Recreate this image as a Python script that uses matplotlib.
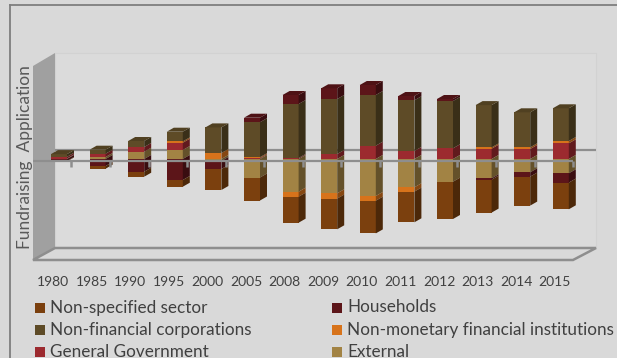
import matplotlib
matplotlib.use("Agg")
import matplotlib.pyplot as plt
from matplotlib.patches import Polygon, Rectangle
from matplotlib.lines import Line2D
from matplotlib.transforms import blended_transform_factory, ScaledTranslation
from matplotlib.colors import to_rgb

plt.rcParams['font.family'] = ['Lato', 'DejaVu Sans']

# ---------------- data ----------------
years = ['1980', '1985', '1990', '1995', '2000', '2005', '2008', '2009',
         '2010', '2011', '2012', '2013', '2014', '2015']

sectors = ['Non-specified sector', 'Households', 'Non-financial corporations',
           'Non-monetary financial institutions', 'General Government', 'External']
colors = ['#7B400E', '#5C1519', '#5E4B27', '#D7731B', '#9C2A2F', '#A28344']

# Application (positive) by sector
app_nonspec = [0, 0, 0, 0, 0, 0, 0, 0, 0, 0, 0, 0, 0, 0]
app_households = [0, 0, 0, 0, 0, 4.5, 9, 10.7, 10, 4.3, 2, 0, 0, 0]
app_nfc = [2.7, 4, 6, 9.7, 25.6, 35, 54, 55, 50.7, 50.7, 47.3, 42.3, 35, 32.7]
app_nmfi = [0, 0, 0, 1.3, 6, 1, 0, 0, 0, 0, 0, 1.3, 1.7, 2.3]
app_gov = [1.7, 3.3, 4.7, 7.3, 0, 0.8, 1, 5, 13.3, 8, 10.7, 10.3, 10, 15.7]
app_external = [0.5, 2, 7.3, 9, 0, 0, 0, 0, 0, 0, 0, 0, 0, 0]

# Fundraising (negative) by sector
fund_nonspec = [-0.5, -2.7, -5, -6.7, -21, -23, -26, -30.7, -32.7, -30.7, -37.3, -33, -29, -26.7]
fund_households = [-2, -7, -12.7, -21, -8, 0, 0, 0, 0, 0, 0, -1.3, -4.3, -9.3]
fund_nfc = [0] * 14
fund_nmfi = [0, 0, 0, 0, 0, 0, -5, -5.3, -4.7, -4.3, 0, 0, 0, 0]
fund_gov = [0] * 14
fund_external = [0, 0, 0, 0, -2, -18.5, -32.7, -34.3, -37, -28.3, -22.7, -19.3, -13.3, -14.3]

app = [app_nonspec, app_households, app_nfc, app_nmfi, app_gov, app_external]
fund = [fund_nonspec, fund_households, fund_nfc, fund_nmfi, fund_gov, fund_external]

# stacking order outward from zero: External, GG, NMFI, NFC, Households, Non-specified
stack_order = [5, 4, 3, 2, 1, 0]


def shade(c, f):
    r, g, b = to_rgb(c)
    return (r * f, g * f, b * f)


# ---------------- figure ----------------
W, H = 617, 358
fig = plt.figure(figsize=(W / 100, H / 100), dpi=100, facecolor='#D9D9D9')

bg = fig.add_axes([0, 0, 1, 1], zorder=0)
bg.set_xlim(0, W)
bg.set_ylim(H, 0)
bg.set_autoscale_on(False)
bg.axis('off')

# chart frame
bg.plot([9.5, 9.5], [H, 4.5], color='#7F7F7F', lw=1.3)
bg.plot([9.5, W], [4.5, 4.5], color='#7F7F7F', lw=1.3)

# 3D walls
bg.add_patch(Rectangle((55, 53), 541, 195, fc='#DBDBDB', ec='#D2D2D2', lw=0.8))
bg.add_patch(Polygon([(33, 66), (55, 53), (55, 248), (33, 260)], closed=True,
                     fc='#A0A0A0', ec='none'))
bg.add_patch(Polygon([(33, 260), (55, 248), (596, 248), (573, 260)], closed=True,
                     fc='#D9D9D9', ec='#8E8E8E', lw=1.8))
# back-wall zero line
bg.plot([55, 596], [150, 150], color='#8E8E8E', lw=1.6, solid_capstyle='butt')

# main data axes
ax_left, ax_right, ax_top, ax_bottom = 39.7, 580.1, 60, 250
ax = fig.add_axes([ax_left / W, (H - ax_bottom) / H, (ax_right - ax_left) / W,
                   (ax_bottom - ax_top) / H], zorder=1)
ax.patch.set_alpha(0)
ax.axis('off')
n = len(years)
ax.set_xlim(-0.5, n - 0.5)
ax.set_ylim(-91, 99)

px_x = (ax_right - ax_left) / n
px_y = (ax_bottom - ax_top) / 190.0
dx = 7 / px_x
dy = 4 / px_y
w = 16 / px_x

# bars
for i in range(n):
    for sign, data in ((1, app), (-1, fund)):
        base = 0.0
        last = None
        for k in stack_order:
            v = data[k][i]
            if v == 0:
                continue
            ax.bar(i, v, width=w, bottom=base, color=colors[k], edgecolor='none',
                   zorder=3)
            lo, hi = sorted([base, base + v])
            xr = i + w / 2
            ax.add_patch(Polygon([(xr, lo), (xr + dx, lo + dy), (xr + dx, hi + dy), (xr, hi)],
                                 closed=True, fc=shade(colors[k], 0.62), ec='none', zorder=3))
            base += v
            last = k
        if sign == 1 and last is not None:
            xl = i - w / 2
            ax.add_patch(Polygon([(xl, base), (xl + dx, base + dy), (xl + w + dx, base + dy),
                                  (xl + w, base)], closed=True,
                                 fc=shade(colors[last], 0.85), ec='none', zorder=3))

# front axis line with ticks (projected forward, drawn in front of bars)
fx = blended_transform_factory(ax.transData, bg.transData)
front_off = ScaledTranslation(-7 / 100, 0, fig.dpi_scale_trans)
fig.add_artist(Line2D([33, 573], [161, 161], color='#8E8E8E', lw=1.6,
                      solid_capstyle='butt', transform=bg.transData, zorder=5))
for i in range(n):
    fig.add_artist(Line2D([i + 0.5, i + 0.5], [161, 166.5], color='#8E8E8E', lw=1.8,
                          solid_capstyle='butt', transform=fx + front_off, zorder=5))

# category labels
lab_off = ScaledTranslation(-6 / 100, 0, fig.dpi_scale_trans)
for i, y in enumerate(years):
    bg.text(i, 282, y, transform=fx + lab_off, ha='center', va='center',
            fontsize=10, color='#404040')

# axis title
bg.text(25, 157, 'Fundraising  Application', rotation=90, ha='center', va='center',
        fontsize=12.5, color='#595959')

# legend (two columns, row-wise order)
col_x = [35, 332]
row_y = [307.5, 330, 352]
for j, (name, c) in enumerate(zip(sectors, colors)):
    cx = col_x[j % 2]
    ry = row_y[j // 2]
    bg.add_patch(Rectangle((cx, ry - 5), 10, 10, fc=c, ec='none'))
    bg.text(cx + 15, ry, name, ha='left', va='center', fontsize=12.3, color='#404040')

fig.savefig('out.png', dpi=100, facecolor=fig.get_facecolor())
